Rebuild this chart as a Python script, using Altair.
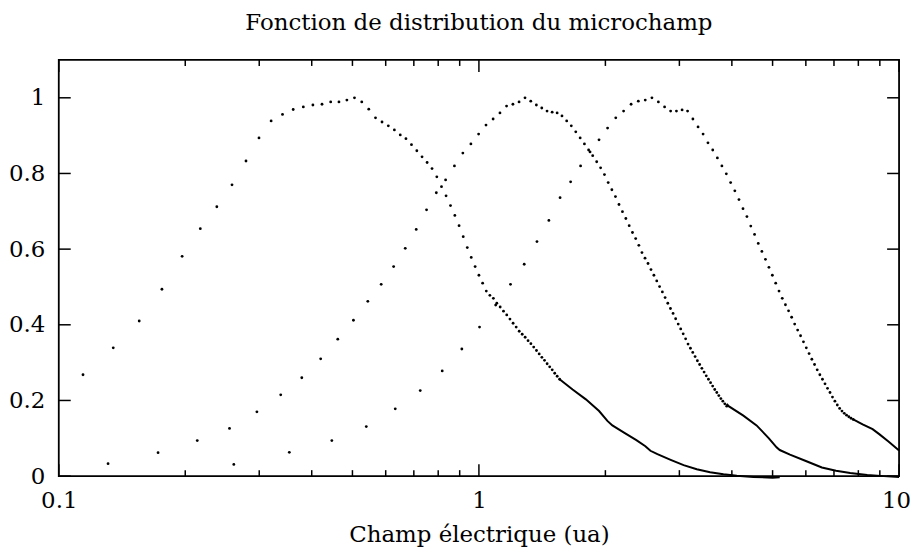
import altair as alt
import pandas as pd

TITLE = "Fonction de distribution du microchamp"
X_TITLE = "Champ électrique (ua)"

X_TICKS_MAJOR = [0.1, 1, 10]
X_TICKS_MINOR = [0.2, 0.3, 0.4, 0.5, 0.6, 0.7, 0.8, 0.9, 2, 3, 4, 5, 6, 7, 8, 9]
Y_TICKS = [0, 0.2, 0.4, 0.6, 0.8, 1.0]

# sampling grid of each series: first abscissa and constant step (read from dot spacing)
S1_X0, S1_DX = 0.1142, 0.0206
S2_X0, S2_DX = 0.131, 0.0413
S3_X0, S3_DX = 0.261, 0.0928

# ordinates of the individually visible dots
S1_Y = [0.268, 0.339, 0.410, 0.494, 0.581, 0.654, 0.712, 0.770, 0.833, 0.894,
        0.939, 0.956, 0.969, 0.976, 0.981, 0.983, 0.989, 0.989, 0.994, 1.000,
        0.989, 0.970, 0.947, 0.936, 0.926, 0.915, 0.902, 0.892, 0.876, 0.860,
        0.844, 0.829, 0.813, 0.791, 0.765, 0.741, 0.715, 0.689, 0.662, 0.633,
        0.604, 0.578, 0.554, 0.531, 0.510, 0.489, 0.478, 0.470, 0.457, 0.447,
        0.436, 0.426, 0.415, 0.404, 0.394, 0.383, 0.375, 0.367, 0.358, 0.350,
        0.341, 0.332, 0.323, 0.314, 0.306, 0.297, 0.289, 0.281, 0.272, 0.264, 0.256]

S2_Y = [0.033, 0.062, 0.094, 0.126, 0.170, 0.215, 0.260, 0.310, 0.362, 0.412,
        0.462, 0.507, 0.554, 0.602, 0.652, 0.704, 0.749, 0.783, 0.820, 0.854,
        0.878, 0.904, 0.928, 0.944, 0.960, 0.978, 0.983, 0.989, 1.000, 0.991,
        0.981, 0.973, 0.965, 0.962, 0.960, 0.952, 0.939, 0.926, 0.910, 0.894,
        0.878, 0.862, 0.847, 0.831, 0.815, 0.797, 0.776, 0.757, 0.739, 0.718,
        0.699, 0.681, 0.662, 0.644, 0.628, 0.610, 0.591, 0.576, 0.562, 0.546,
        0.531, 0.516, 0.501, 0.487, 0.472, 0.457, 0.443, 0.430, 0.416, 0.402,
        0.389, 0.376, 0.363, 0.349, 0.338, 0.327, 0.316, 0.305, 0.295, 0.285,
        0.275, 0.265, 0.256, 0.247, 0.238, 0.229, 0.221, 0.213, 0.205, 0.198,
        0.191, 0.185]

S3_Y = [0.031, 0.063, 0.094, 0.131, 0.178, 0.226, 0.278, 0.336, 0.394, 0.452,
        0.507, 0.560, 0.620, 0.676, 0.736, 0.778, 0.820, 0.857, 0.889, 0.920,
        0.947, 0.965, 0.983, 0.991, 0.994, 1.000, 0.989, 0.976, 0.965, 0.965,
        0.968, 0.965, 0.944, 0.923, 0.904, 0.881, 0.862, 0.841, 0.820, 0.799,
        0.776, 0.754, 0.731, 0.707, 0.686, 0.661, 0.639, 0.615, 0.594, 0.573,
        0.552, 0.531, 0.510, 0.489, 0.470, 0.453, 0.437, 0.420, 0.402, 0.386,
        0.371, 0.355, 0.339, 0.324, 0.309, 0.295, 0.281, 0.268, 0.256, 0.244,
        0.232, 0.221, 0.209, 0.198, 0.188, 0.179, 0.172, 0.166, 0.161, 0.157,
        0.153, 0.150]

# tails where the dots merge into a continuous trace
S1_TAIL_X = [1.556, 1.671, 1.797, 1.932, 2.022, 2.078, 2.215, 2.37, 2.49, 2.56,
             2.66, 2.86, 3.07, 3.30, 3.55, 3.82, 4.11, 4.5, 5.0, 5.2]
S1_TAIL_Y = [0.256, 0.229, 0.203, 0.172, 0.146, 0.134, 0.115, 0.095, 0.079, 0.067,
             0.058, 0.043, 0.029, 0.018, 0.010, 0.005, 0.001, -0.002, -0.004, -0.003]
S2_TAIL_X = [3.889, 3.93, 4.26, 4.58, 4.90, 5.11, 5.20, 5.50, 6.0, 6.55, 7.08, 7.65, 8.4, 9.2, 10.0]
S2_TAIL_Y = [0.191, 0.185, 0.160, 0.134, 0.100, 0.076, 0.069, 0.057, 0.040, 0.023, 0.014, 0.008, 0.003, 0.000, -0.002]
S3_TAIL_X = [7.778, 8.19, 8.65, 8.97, 9.42, 10.0]
S3_TAIL_Y = [0.150, 0.137, 0.124, 0.111, 0.092, 0.068]


def grid(x0, dx, ys):
    return [round(x0 + dx * i, 4) for i in range(len(ys))]


dots = pd.concat([
    pd.DataFrame({"x": grid(S1_X0, S1_DX, S1_Y), "y": S1_Y, "s": "s1"}),
    pd.DataFrame({"x": grid(S2_X0, S2_DX, S2_Y), "y": S2_Y, "s": "s2"}),
    pd.DataFrame({"x": grid(S3_X0, S3_DX, S3_Y), "y": S3_Y, "s": "s3"}),
], ignore_index=True)

tails = pd.concat([
    pd.DataFrame({"x": S1_TAIL_X, "y": S1_TAIL_Y, "s": "s1"}),
    pd.DataFrame({"x": S2_TAIL_X, "y": S2_TAIL_Y, "s": "s2"}),
    pd.DataFrame({"x": S3_TAIL_X, "y": S3_TAIL_Y, "s": "s3"}),
], ignore_index=True)

W, H = 844, 418
FONT = "DejaVu Serif"
FS = 23
MAJ, MIN = 12, 6

x_scale = alt.Scale(type="log", domain=[0.1, 10], nice=False)
y_scale = alt.Scale(domain=[0, 1.1], nice=False, zero=False)

x_axis = alt.Axis(values=X_TICKS_MAJOR, format="~g", title=X_TITLE, ticks=False,
                  domain=False, grid=False, labelFlush=False, labelFont=FONT, labelFontSize=FS,
                  labelColor="black", labelPadding=14,
                  labelOffset={"condition": {"test": "datum.value >= 10", "value": -3}, "value": 0},
                  titleFont=FONT, titleFontSize=FS,
                  titleFontWeight="normal", titleColor="black", titlePadding=11)
y_axis = alt.Axis(values=Y_TICKS, format="~g", title=" ", ticks=False,
                  domain=False, grid=False, labelFont=FONT, labelFontSize=FS,
                  labelColor="black", labelPadding=14)


def xenc(field):
    return alt.X(field, type="quantitative", scale=x_scale, axis=x_axis)


def yenc(field):
    return alt.Y(field, type="quantitative", scale=y_scale, axis=y_axis)


points = alt.Chart(dots).mark_circle(size=8, color="black", opacity=1).encode(
    x=xenc("x"), y=yenc("y"), detail="s:N",
)

lines = alt.Chart(tails).mark_line(color="black", strokeWidth=2.0).encode(
    x=xenc("x"), y=yenc("y"), detail="s:N",
)


def xticks(vals, length):
    base = alt.Chart(pd.DataFrame({"v": vals})).mark_rule(color="black", strokeWidth=1.5)
    return [base.encode(x=xenc("v"), y=alt.value(H), y2=alt.value(H - length)),
            base.encode(x=xenc("v"), y=alt.value(0), y2=alt.value(length))]


def yticks(vals, length):
    base = alt.Chart(pd.DataFrame({"v": vals})).mark_rule(color="black", strokeWidth=1.5)
    return [base.encode(y=yenc("v"), x=alt.value(0), x2=alt.value(length)),
            base.encode(y=yenc("v"), x=alt.value(W), x2=alt.value(W - length))]


layers = [points, lines] + xticks(X_TICKS_MAJOR, MAJ) + xticks(X_TICKS_MINOR, MIN) + yticks(Y_TICKS, MAJ)

chart = alt.layer(*layers).properties(
    width=W,
    height=H,
    background="white",
    title=alt.Title(TITLE, font=FONT, fontSize=FS, fontWeight="normal", color="black",
                    anchor="middle", frame="group", offset=24),
    padding={"left": 51, "top": 51, "right": 13, "bottom": 72},
    autosize=alt.AutoSizeParams(type="none"),
).configure_view(stroke="black", strokeWidth=1.8)

chart.save("out.html", embed_options={"renderer": "svg", "actions": False})
